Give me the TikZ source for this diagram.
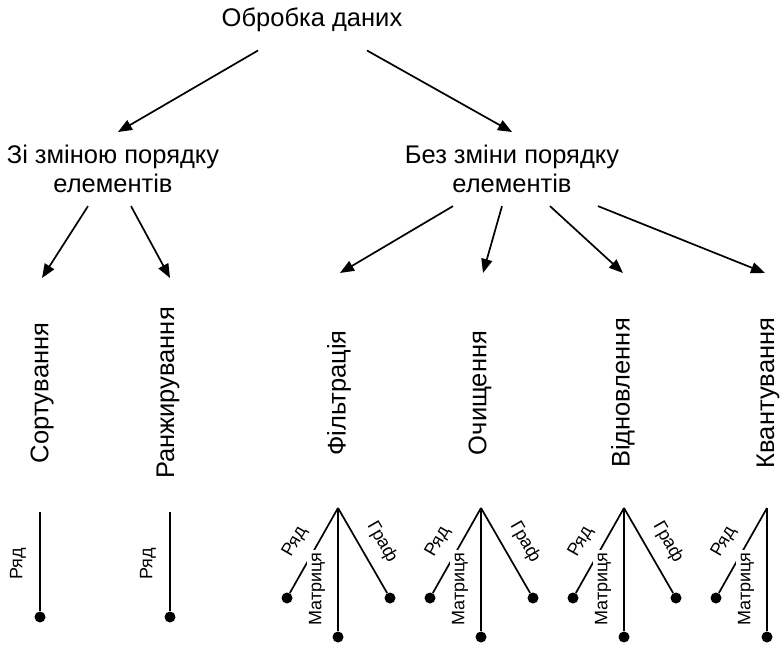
\documentclass[tikz,border=0pt]{standalone}
\usepackage{fontspec}
\setmainfont{Liberation Sans}
\usetikzlibrary{arrows.meta,calc}
\begin{document}
\begin{tikzpicture}[x=1pt,y=-1pt,
  big/.style={font=\fontsize{25.5}{29}\selectfont, inner sep=0pt},
  small/.style={font=\fontsize{18}{21}\selectfont, inner sep=2pt},
  arr/.style={line width=1.7pt, -{Triangle[length=14pt,width=11pt]}},
  ln/.style={line width=1.7pt},
  dot/.style={circle, fill=black, inner sep=0pt, minimum size=11pt},
  vlab/.style={big, rotate=90}]
\useasboundingbox (0,0) rectangle (780,645);
% titles
\node[big, anchor=base] (t) at (312,27) {Обробка даних};
\node[big, align=center, anchor=north] (a) at (113,145) {Зі зміною порядку\\елементів};
\node[big, align=center, anchor=north] (b) at (512,145) {Без зміни порядку\\елементів};
% vertical labels
\node[vlab] (s1) at (42,393) {Сортування};
\node[vlab] (s2) at (168,393) {Ранжирування};
\node[vlab] (s3) at (339,393) {Фільтрація};
\node[vlab] (s4) at (480,393) {Очищення};
\node[vlab] (s5) at (623,393) {Відновлення};
\node[vlab] (s6) at (768,393) {Квантування};
% arrows
\draw[arr] ($(t.south)+(-54,18)$) -- ($(a.north)+(5,-13)$);
\draw[arr] ($(t.south)+(55,18)$) -- ($(b.north)+(0,-13)$);
\draw[arr] ($(a.south)+(-25,13)$) -- ($(s1.center)+(0,-115)$);
\draw[arr] ($(a.south)+(18,13)$) -- ($(s2.center)+(2,-115)$);
\draw[arr] ($(b.south)+(-59,13)$) -- ($(s3.center)+(1,-120)$);
\draw[arr] ($(b.south)+(-10,13)$) -- ($(s4.center)+(3,-120)$);
\draw[arr] ($(b.south)+(38,13)$) -- ($(s5.center)+(0,-120)$);
\draw[arr] ($(b.south)+(86,13)$) -- ($(s6.center)+(-3,-120)$);
% single trees
\foreach \n/\x in {p/40, q/170}{
  \coordinate (\n0) at (\x,512);
  \node[dot] (\n1) at (\x,617) {};
  \draw[ln] (\n0) -- (\n1);
  \node[small, rotate=90] (\n r) at (\x-22,564) {Ряд};
}
% branched trees
\foreach \n/\x/\g in {f/338/1, o/481/1, v/624/1, k/767/0}{
  \coordinate (\n0) at (\x,508);
  \node[dot] (\n1) at (\x-51,598) {};
  \node[dot] (\n2) at (\x,637) {};
  \draw[ln] (\n0) -- (\n1);
  \draw[ln] (\n0) -- (\n2);
  \node[small, rotate=60] (\n r) at (\x-43,542) {Ряд};
  \node[small, rotate=90, fill=white] (\n m) at (\x-21,589) {Матриця};
  \ifnum\g=1
    \node[dot] (\n3) at (\x+52,598) {};
    \draw[ln] (\n0) -- (\n3);
    \node[small, rotate=-60] (\n g) at (\x+44,542) {Граф};
  \fi
}
\end{tikzpicture}
\end{document}
